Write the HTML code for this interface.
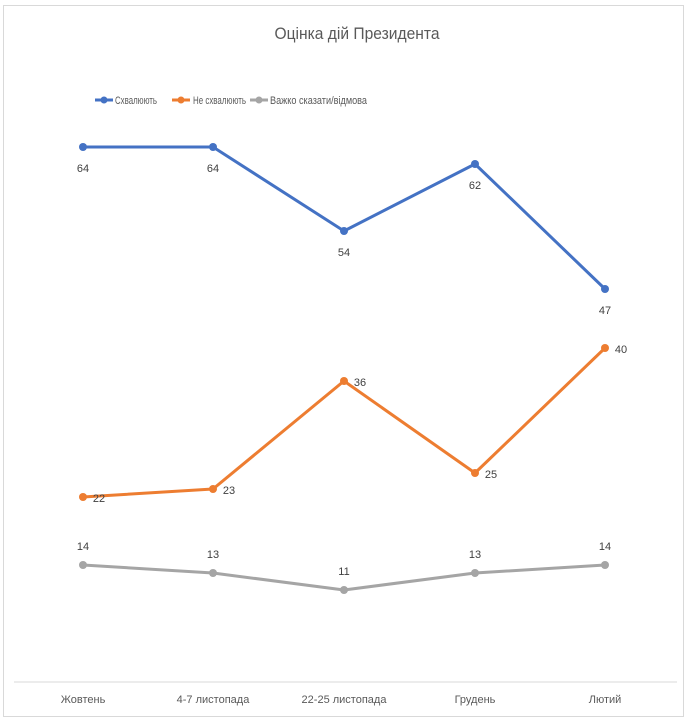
<!DOCTYPE html>
<html><head><meta charset="utf-8"><style>
body{margin:0;background:#fff;}
svg{display:block;font-family:"Liberation Sans",sans-serif;}
</style></head><body>
<svg width="690" height="720" viewBox="0 0 690 720">
<rect x="3.5" y="5.5" width="680" height="711" fill="#fff" stroke="#d9d9d9" stroke-width="1"/>
<text x="357" y="39" font-size="17" fill="#595959" text-anchor="middle" textLength="165" lengthAdjust="spacingAndGlyphs">Оцінка дій Президента</text>
<g font-size="11" fill="#595959">
<line x1="95" y1="100" x2="113" y2="100" stroke="#4472c4" stroke-width="3"/><circle cx="104" cy="100" r="3.5" fill="#4472c4"/>
<text x="115" y="104" textLength="42" lengthAdjust="spacingAndGlyphs">Схвалюють</text>
<line x1="172" y1="100" x2="190" y2="100" stroke="#ed7d31" stroke-width="3"/><circle cx="181" cy="100" r="3.5" fill="#ed7d31"/>
<text x="193" y="104" textLength="53" lengthAdjust="spacingAndGlyphs">Не схвалюють</text>
<line x1="250" y1="100" x2="268" y2="100" stroke="#a5a5a5" stroke-width="3"/><circle cx="259" cy="100" r="3.5" fill="#a5a5a5"/>
<text x="270" y="104" textLength="97" lengthAdjust="spacingAndGlyphs">Важко сказати/відмова</text>
</g>
<line x1="14" y1="682" x2="677" y2="682" stroke="#d9d9d9" stroke-width="1"/>
<g font-size="11" fill="#595959" text-anchor="middle">
<text x="83" y="703">Жовтень</text>
<text x="213" y="703">4-7 листопада</text>
<text x="344" y="703">22-25 листопада</text>
<text x="475" y="703">Грудень</text>
<text x="605" y="703">Лютий</text>
</g>
<g fill="none" stroke-width="3" stroke-linejoin="round">
<polyline stroke="#4472c4" points="83,147 213,147 344,231 475,164 605,289"/>
<polyline stroke="#ed7d31" points="83,497 213,489 344,381 475,473 605,348"/>
<polyline stroke="#a5a5a5" points="83,565 213,573 344,590 475,573 605,565"/>
</g>
<g fill="#4472c4"><circle cx="83" cy="147" r="4"/><circle cx="213" cy="147" r="4"/><circle cx="344" cy="231" r="4"/><circle cx="475" cy="164" r="4"/><circle cx="605" cy="289" r="4"/></g>
<g fill="#ed7d31"><circle cx="83" cy="497" r="4"/><circle cx="213" cy="489" r="4"/><circle cx="344" cy="381" r="4"/><circle cx="475" cy="473" r="4"/><circle cx="605" cy="348" r="4"/></g>
<g fill="#a5a5a5"><circle cx="83" cy="565" r="4"/><circle cx="213" cy="573" r="4"/><circle cx="344" cy="590" r="4"/><circle cx="475" cy="573" r="4"/><circle cx="605" cy="565" r="4"/></g>
<g font-size="11" fill="#404040" text-anchor="middle">
<text x="83" y="172">64</text><text x="213" y="172">64</text><text x="344" y="256">54</text><text x="475" y="189">62</text><text x="605" y="314">47</text>
<text x="99" y="502">22</text><text x="229" y="494">23</text><text x="360" y="386">36</text><text x="491" y="478">25</text><text x="621" y="353">40</text>
<text x="83" y="550">14</text><text x="213" y="558">13</text><text x="344" y="575">11</text><text x="475" y="558">13</text><text x="605" y="550">14</text>
</g>
</svg>
</body></html>
